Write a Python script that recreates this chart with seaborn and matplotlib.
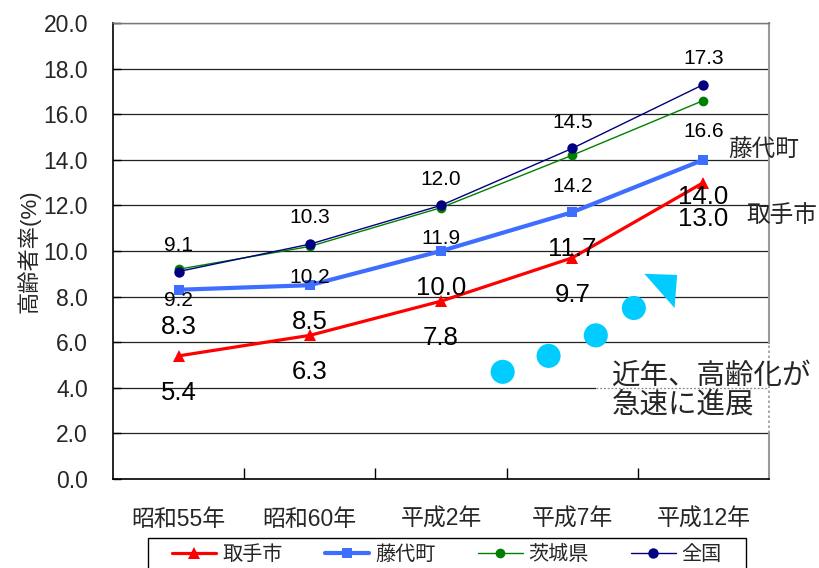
import matplotlib
matplotlib.use("Agg")
import matplotlib.pyplot as plt
import seaborn as sns
import pandas as pd
from matplotlib.patches import Polygon, Rectangle
from matplotlib.transforms import IdentityTransform
from matplotlib.ticker import FixedLocator, FormatStrFormatter

# 年次と地域別の高齢者率（%）
years = ["昭和55年", "昭和60年", "平成2年", "平成7年", "平成12年"]
regions = ["取手市", "藤代町", "茨城県", "全国"]
toride = [5.4, 6.3, 7.8, 9.7, 13.0]
fujishiro = [8.3, 8.5, 10.0, 11.7, 14.0]
ibaraki = [9.2, 10.2, 11.9, 14.2, 16.6]
zenkoku = [9.1, 10.3, 12.0, 14.5, 17.3]
y_ticks = [0, 2, 4, 6, 8, 10, 12, 14, 16, 18, 20]

df = pd.DataFrame({
    "年": years * 4,
    "高齢者率": toride + fujishiro + ibaraki + zenkoku,
    "地域": [r for r in regions for _ in years],
})

sns.set_theme(style="white")
plt.rcParams["font.family"] = ["Liberation Sans", "Noto Sans CJK JP"]

fig = plt.figure(figsize=(8.2, 5.68), dpi=100)
ax = fig.add_axes([113 / 820, 1 - 479 / 568, 656 / 820, 456 / 568])

styles = {
    "取手市": dict(color="#FF0000", marker="^", lw=2.3, ms=8.5),
    "藤代町": dict(color="#3D6EFF", marker="s", lw=3.0, ms=7.5),
    "茨城県": dict(color="#008000", marker="o", lw=1.0, ms=7.0),
    "全国": dict(color="#000080", marker="o", lw=1.0, ms=7.5),
}
# ラベルの位置（点からのずれ, pt）と文字サイズ
label_style = {
    "取手市": (-26.5, 18.5),
    "藤代町": (-26.5, 18.5),
    "茨城県": (-22.5, 15),
    "全国": (19.0, 15),
}

handles = []
for name in regions:
    sub = df[df["地域"] == name]
    st = styles[name]
    sns.lineplot(data=sub, x="年", y="高齢者率", ax=ax, sort=False,
                 color=st["color"], marker=st["marker"], linewidth=st["lw"],
                 markersize=st["ms"], markeredgewidth=0, label=name,
                 legend=False, zorder=5)
    handles.append(ax.lines[-1])
    dy, fs = label_style[name]
    for i, v in enumerate(sub["高齢者率"]):
        ax.annotate(f"{v:.1f}", (i, v), xytext=(0, dy), textcoords="offset points",
                    ha="center", va="center", fontsize=fs, color="black", zorder=7)

ax.set_xlim(-0.5, 4.5)
ax.set_ylim(0, 20)
ax.set_yticks(y_ticks)
ax.yaxis.set_major_formatter(FormatStrFormatter("%.1f"))
ax.set_xlabel("")
ax.set_ylabel("高齢者率(%)", fontsize=16, labelpad=2)

ax.yaxis.grid(True, color="#222222", linewidth=0.9)
ax.xaxis.grid(False)
ax.set_axisbelow(True)

ax.tick_params(axis="y", which="major", direction="in", length=6, width=1,
               color="black", labelsize=16.5, pad=18, left=True)
ax.tick_params(axis="x", which="major", length=0, labelsize=16.5, pad=21)
ax.xaxis.set_minor_locator(FixedLocator([0.5, 1.5, 2.5, 3.5]))
ax.tick_params(axis="x", which="minor", direction="in", length=8, width=1,
               color="black", bottom=True)

for side in ("left", "bottom"):
    ax.spines[side].set_color("black")
    ax.spines[side].set_linewidth(1.2)
ax.spines["top"].set_color("#777777")
ax.spines["top"].set_linewidth(1.0)
ax.spines["right"].set_color("#999999")
ax.spines["right"].set_linewidth(1.5)

# 系列名の注記
ax.text(4.46, 14.43, "藤代町", fontsize=17, ha="center", va="center", clip_on=False)
ax.text(4.60, 11.53, "取手市", fontsize=17, ha="center", va="center", clip_on=False)

# 上昇傾向を示す矢印（点と三角形）
cyan = "#00CCFF"
ax.scatter([2.47, 2.82, 3.18, 3.47], [4.7, 5.4, 6.3, 7.5], s=300, color=cyan,
           edgecolors="none", zorder=4)
ax.add_patch(Polygon([(3.55, 9.0), (3.80, 8.95), (3.78, 7.5)], closed=True,
                     facecolor=cyan, edgecolor="none", zorder=4))

# コメント欄
ax.add_patch(Rectangle((3.18, 2.06), 1.34, 3.84, facecolor="white", edgecolor="none",
                       zorder=3, clip_on=False))
ax.plot([3.18, 4.5], [4.0, 4.0], color="#888888", lw=0.9, ls=(0, (1.5, 1.5)), zorder=3.5)
ax.plot([4.5, 4.5], [2.0, 5.9], color="#999999", lw=1.2, ls=(0, (1.5, 1.5)), zorder=3.5,
        clip_on=False)
ax.text(3.305, 3.86, "近年、高齢化が\n急速に進展", fontsize=20.5, ha="left", va="center",
        linespacing=1.08, zorder=6, clip_on=False)

# 凡例（枠は左右に余白を広く取る）
leg = fig.legend(handles, regions, loc="upper center",
                 bbox_to_anchor=(447 / 820, 1 - 538 / 568), borderaxespad=0,
                 ncol=4, fontsize=14.5, frameon=False, handlelength=2.2,
                 handletextpad=0.3, columnspacing=2.1, borderpad=0.35)
fig.canvas.draw()
bb = leg.get_window_extent(fig.canvas.get_renderer())
frame = Rectangle((bb.x0 - 17, bb.y0 - 20), bb.width + 34, bb.height + 20,
                  transform=IdentityTransform(), facecolor="none",
                  edgecolor="black", linewidth=1.0)
fig.add_artist(frame)

fig.savefig("out.png", dpi=100)
